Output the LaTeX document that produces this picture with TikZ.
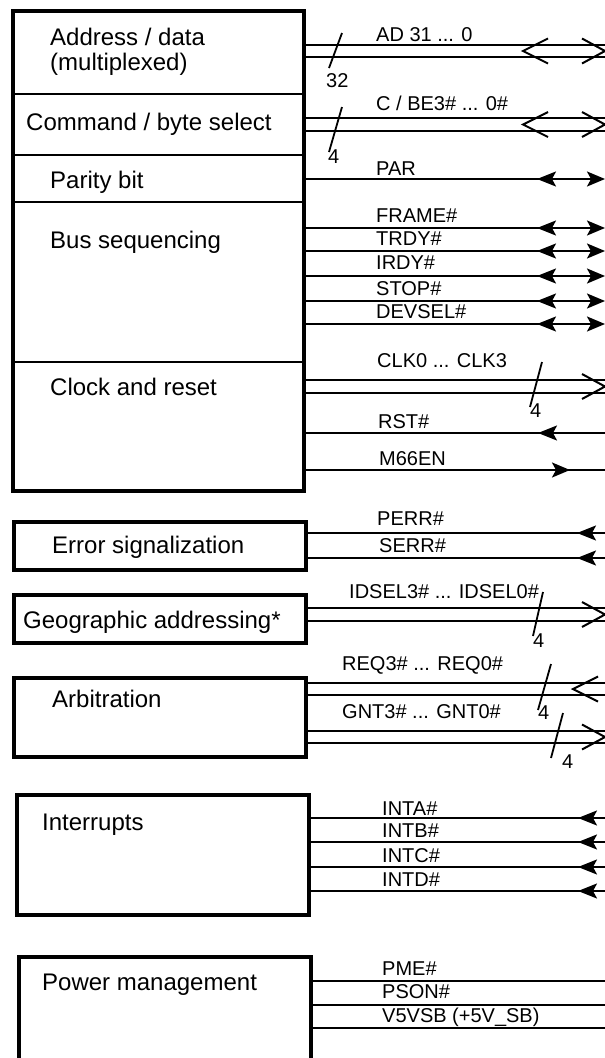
\documentclass[tikz,border=0pt]{standalone}
\usepackage{fontspec}
\setmainfont{Liberation Sans}
\usepackage{tikz}
\usetikzlibrary{arrows.meta}

\begin{document}
\begin{tikzpicture}[
    x=1pt, y=-1pt,
    group/.style={rectangle, draw=black, line width=3.5pt, anchor=north west, inner sep=0pt, outer sep=0pt},
    section/.style={anchor=base west, inner sep=0pt, align=left, font=\fontsize{24}{25}\selectfont},
    signame/.style={anchor=base west, inner sep=0pt, font=\fontsize{20}{22}\selectfont},
    sig/.style={line width=2pt},
    divider/.style={line width=2pt},
    slash/.style={line width=1.8pt},
    outtip/.style={sig, -{Stealth[length=18pt, width=15pt, inset=4pt]}},
    intip/.style={sig, {Stealth[length=19pt, width=15pt, inset=4pt]}-},
    barbout/.pic={\draw[sig, line join=miter] (-23,-12.5) -- (0,0) -- (-23,12.5);},
    barbin/.pic={\draw[sig, line join=miter] (25,-12.5) -- (0,0) -- (25,12.5);}
]
\useasboundingbox (0,0) rectangle (605,1058);

% Boxes
\node[group, minimum width=291pt, minimum height=480pt] (core) at (13,11) {};
\draw[divider] (core.west |- 0,94) -- (core.east |- 0,94);
\draw[divider] (core.west |- 0,155) -- (core.east |- 0,155);
\draw[divider] (core.west |- 0,202) -- (core.east |- 0,202);
\draw[divider] (core.west |- 0,362) -- (core.east |- 0,362);
\node[group, minimum width=292pt, minimum height=48pt] (errbox) at (14,522) {};
\node[group, minimum width=292pt, minimum height=48pt] (geobox) at (14,595) {};
\node[group, minimum width=292pt, minimum height=79pt] (arbbox) at (14,678) {};
\node[group, minimum width=292pt, minimum height=120pt] (intbox) at (17,795) {};
\node[group, minimum width=292pt, minimum height=130pt] (pwrbox) at (19,957) {};

% Box texts
\node[section] (addrtxt) at (50,70) {Address / data\\(multiplexed)};
\node[section] (cmdtxt) at (26,130) {Command / byte select};
\node[section] (partxt) at (50,188) {Parity bit};
\node[section] (seqtxt) at (50,248) {Bus sequencing};
\node[section] (clktxt) at (50,395) {Clock and reset};
\node[section] (errtxt) at (52,553) {Error signalization};
\node[section] (geotxt) at (23,628) {Geographic addressing*};
\node[section] (arbtxt) at (52,707) {Arbitration};
\node[section] (inttxt) at (42,830) {Interrupts};
\node[section] (pwrtxt) at (42,990) {Power management};

% Signal ends
\coordinate (adA) at (605,45); \coordinate (adB) at (605,57); \coordinate (ad) at (605,51);
\coordinate (cbeA) at (605,118); \coordinate (cbeB) at (605,131); \coordinate (cbe) at (605,124.5);
\coordinate (par) at (605,179);
\coordinate (frame) at (605,228);
\coordinate (trdy) at (605,251);
\coordinate (irdy) at (605,276);
\coordinate (stop) at (605,301);
\coordinate (devsel) at (605,324);
\coordinate (clkA) at (605,380); \coordinate (clkB) at (605,393); \coordinate (clk) at (605,386.5);
\coordinate (rst) at (605,433);
\coordinate (m66) at (605,470);
\coordinate (perr) at (605,533);
\coordinate (serr) at (605,558);
\coordinate (idA) at (605,608); \coordinate (idB) at (605,621); \coordinate (id) at (605,614.5);
\coordinate (reqA) at (605,683); \coordinate (reqB) at (605,695); \coordinate (req) at (605,689);
\coordinate (gntA) at (605,731); \coordinate (gntB) at (605,743); \coordinate (gnt) at (605,737);
\coordinate (inta) at (605,818);
\coordinate (intb) at (605,842);
\coordinate (intc) at (605,867);
\coordinate (intd) at (605,891);
\coordinate (pme) at (605,981);
\coordinate (pson) at (605,1005);
\coordinate (vsb) at (605,1028);

% Address / data and command
\draw[sig] (core.east |- adA) -- (adA);
\draw[sig] (core.east |- adB) -- (adB);
\pic at (ad) {barbout};
\pic at ([xshift=-82pt]ad) {barbin};
\draw[slash] (342,33) -- (329,68);
\node[signame] (adlbl) at (376,41) {AD 31 ... 0};
\node[signame] (adw) at (326,87) {32};

\draw[sig] (core.east |- cbeA) -- (cbeA);
\draw[sig] (core.east |- cbeB) -- (cbeB);
\pic at (cbe) {barbout};
\pic at ([xshift=-82pt]cbe) {barbin};
\draw[slash] (342,107) -- (329,152);
\node[signame] (cbelbl) at (376,110) {C / BE3\# ... 0\#};
\node[signame] (cbew) at (328,163) {4};

% Parity and bus sequencing
\draw[outtip] (core.east |- par) -- (par);
\draw[intip] ([xshift=-68pt]par) -- ++(20,0);
\node[signame] (parlbl) at (376,175) {PAR};

\draw[outtip] (core.east |- frame) -- (frame);
\draw[intip] ([xshift=-68pt]frame) -- ++(20,0);
\node[signame] (framelbl) at (376,222) {FRAME\#};
\draw[outtip] (core.east |- trdy) -- (trdy);
\draw[intip] ([xshift=-68pt]trdy) -- ++(20,0);
\node[signame] (trdylbl) at (376,245) {TRDY\#};
\draw[outtip] (core.east |- irdy) -- (irdy);
\draw[intip] ([xshift=-68pt]irdy) -- ++(20,0);
\node[signame] (irdylbl) at (376,269) {IRDY\#};
\draw[outtip] (core.east |- stop) -- (stop);
\draw[intip] ([xshift=-68pt]stop) -- ++(20,0);
\node[signame] (stoplbl) at (376,295) {STOP\#};
\draw[outtip] (core.east |- devsel) -- (devsel);
\draw[intip] ([xshift=-68pt]devsel) -- ++(20,0);
\node[signame] (devsellbl) at (376,318) {DEVSEL\#};

% Clock and reset
\draw[sig] (core.east |- clkA) -- (clkA);
\draw[sig] (core.east |- clkB) -- (clkB);
\pic at (clk) {barbout};
\draw[slash] (542,362) -- (530,407);
\node[signame] (clklbl) at (377,367) {CLK0 ... CLK3};
\node[signame] (clkw) at (530,417) {4};

\draw[sig] (core.east |- rst) -- (rst);
\draw[intip] ([xshift=-67pt]rst) -- ++(20,0);
\node[signame] (rstlbl) at (378,428) {RST\#};

\draw[sig] (core.east |- m66) -- (m66);
\draw[outtip] ([xshift=-55pt]m66) -- ([xshift=-35pt]m66);
\node[signame] (m66lbl) at (379,465) {M66EN};

% Error signalization
\draw[sig] (errbox.east |- perr) -- (perr);
\draw[intip] ([xshift=-28pt]perr) -- ++(20,0);
\node[signame] (perrlbl) at (377,525) {PERR\#};
\draw[sig] (errbox.east |- serr) -- (serr);
\draw[intip] ([xshift=-28pt]serr) -- ++(20,0);
\node[signame] (serrlbl) at (379,552) {SERR\#};

% Geographic addressing
\draw[sig] (geobox.east |- idA) -- (idA);
\draw[sig] (geobox.east |- idB) -- (idB);
\pic at (id) {barbout};
\draw[slash] (543,592) -- (533,636);
\node[signame] (idlbl) at (349,598) {IDSEL3\# ... IDSEL0\#};
\node[signame] (idw) at (533,647) {4};

% Arbitration
\draw[sig] (arbbox.east |- reqA) -- (reqA);
\draw[sig] (arbbox.east |- reqB) -- (reqB);
\pic at ([xshift=-32pt]req) {barbin};
\draw[slash] (551,664) -- (538,710);
\node[signame] (reqlbl) at (342,670) {REQ3\# ... REQ0\#};
\node[signame] (reqw) at (538,719) {4};

\draw[sig] (arbbox.east |- gntA) -- (gntA);
\draw[sig] (arbbox.east |- gntB) -- (gntB);
\pic at (gnt) {barbout};
\draw[slash] (563,713) -- (551,758);
\node[signame] (gntlbl) at (342,718) {GNT3\# ... GNT0\#};
\node[signame] (gntw) at (562,768) {4};

% Interrupts
\draw[sig] (intbox.east |- inta) -- (inta);
\draw[intip] ([xshift=-27pt]inta) -- ++(20,0);
\node[signame] (intalbl) at (382,815) {INTA\#};
\draw[sig] (intbox.east |- intb) -- (intb);
\draw[intip] ([xshift=-27pt]intb) -- ++(20,0);
\node[signame] (intblbl) at (382,837) {INTB\#};
\draw[sig] (intbox.east |- intc) -- (intc);
\draw[intip] ([xshift=-27pt]intc) -- ++(20,0);
\node[signame] (intclbl) at (382,862) {INTC\#};
\draw[sig] (intbox.east |- intd) -- (intd);
\draw[intip] ([xshift=-27pt]intd) -- ++(20,0);
\node[signame] (intdlbl) at (382,886) {INTD\#};

% Power management
\draw[sig] (pwrbox.east |- pme) -- (pme);
\node[signame] (pmelbl) at (382,975) {PME\#};
\draw[sig] (pwrbox.east |- pson) -- (pson);
\node[signame] (psonlbl) at (382,998) {PSON\#};
\draw[sig] (pwrbox.east |- vsb) -- (vsb);
\node[signame] (vsblbl) at (382,1022) {V5VSB (+5V\_SB)};

\end{tikzpicture}
\end{document}
